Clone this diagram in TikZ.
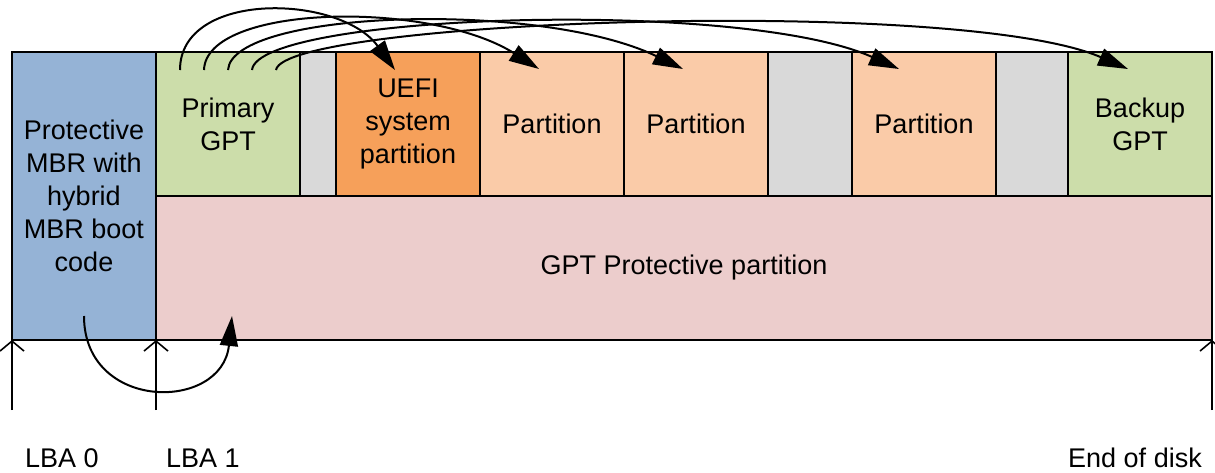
\documentclass[tikz,border=0pt]{standalone}
\usepackage{fontspec}
\setmainfont{Liberation Sans}
\usepackage{xcolor}
\usetikzlibrary{arrows.meta}

\definecolor{mbrblue}{RGB}{149,179,214}
\definecolor{gptgreen}{RGB}{204,221,170}
\definecolor{efiorange}{RGB}{246,160,90}
\definecolor{partpeach}{RGB}{250,203,168}
\definecolor{freegray}{RGB}{217,217,217}
\definecolor{protpink}{RGB}{236,205,204}

\begin{document}
\begin{tikzpicture}[x=0.5pt, y=-0.5pt,
        block/.style={draw, line width=1pt, anchor=north west, inner sep=0pt, outer sep=0pt,
            minimum height=72pt, align=center, font=\fontsize{13.5}{16.5}\selectfont},
        wide/.style={block, minimum width=72pt},
        jump/.style={line width=1pt, -{Triangle[length=15pt, width=9pt]}},
        mark lba/.style={line width=0.8pt, -{Straight Barb[length=5pt, width=12pt]}},
        lbl/.style={font=\fontsize{13.5}{15}\selectfont}]
    \useasboundingbox (0,0) rectangle (1215,472);

    % the disk, left to right
    \node[wide, fill=mbrblue, minimum height=144pt] (mbr) at (12,52)
        {Protective\\MBR with\\hybrid\\MBR boot\\code};
    \node[wide, fill=gptgreen] (pgpt) at (156,52) {Primary\\GPT};
    \node[block, fill=freegray, minimum width=18pt] (gapa) at (300,52) {};
    \node[wide, fill=efiorange] (uefi) at (336,52) {UEFI\\system\\partition};
    \node[wide, fill=partpeach] (parta) at (480,52) {Partition};
    \node[wide, fill=partpeach] (partb) at (624,52) {Partition};
    \node[block, fill=freegray, minimum width=42pt] (gapb) at (768,52) {};
    \node[wide, fill=partpeach] (partc) at (852,52) {Partition};
    \node[block, fill=freegray, minimum width=36pt] (gapc) at (996,52) {};
    \node[wide, fill=gptgreen] (bgpt) at (1068,52) {Backup\\GPT};
    \node[block, fill=protpink, minimum width=528pt] (prot) at (156,196) {GPT Protective partition};

    % the primary GPT points at every partition and at its backup
    \coordinate (sa) at (180,70);
    \coordinate (sb) at (204,70);
    \coordinate (sc) at (228,70);
    \coordinate (sd) at (252,70);
    \coordinate (se) at (276,70);
    \coordinate (ta) at (395,70);
    \coordinate (tb) at (539,69);
    \coordinate (tc) at (683,69);
    \coordinate (td) at (899,69);
    \coordinate (te) at (1128,69);
    \draw[jump] (sa) .. controls (180,-10) and (340,-6) .. (ta);
    \draw[jump] (sb) .. controls (206,4) and (430,0) .. (tb);
    \draw[jump] (sc) .. controls (232,10) and (540,0) .. (tc);
    \draw[jump] (sd) .. controls (258,14) and (740,-2) .. (td);
    \draw[jump] (se) .. controls (284,20) and (960,-4) .. (te);

    % the MBR points at the protective partition
    \coordinate (ma) at (84,316);
    \coordinate (mb) at (232,316);
    \draw[jump] (ma) .. controls (84,412) and (222,412) .. (mb);

    % block addresses
    \coordinate (fa) at (12,410);
    \coordinate (fb) at (156,410);
    \coordinate (fc) at (1212,410);
    \draw[mark lba] (fa) -- (mbr.south west);
    \draw[mark lba] (fb) -- (prot.south west);
    \draw[mark lba] (fc) -- (prot.south east);
    \node[lbl] (lbaz) at (62,458) {LBA 0};
    \node[lbl] (lbao) at (203,458) {LBA 1};
    \node[lbl] (eod) at (1135,458) {End of disk};
\end{tikzpicture}
\end{document}
